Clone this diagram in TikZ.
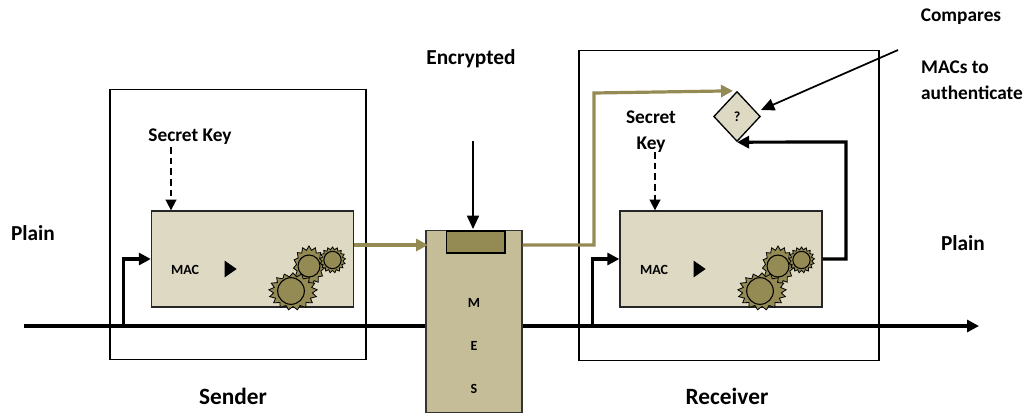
\documentclass[tikz,border=0pt]{standalone}
\usepackage{fontspec}
\setmainfont{Carlito}
\usepackage{xcolor}
\usetikzlibrary{arrows.meta}
\usetikzlibrary{shapes.geometric}
\definecolor{boxtan}{HTML}{DDD9C3}
\definecolor{mestan}{HTML}{C4BD97}
\definecolor{olive}{HTML}{948A54}
\tikzset{
 label/.style={font=\fontsize{14.5}{16}\bfseries\selectfont,inner sep=0pt},
 midlabel/.style={font=\fontsize{16}{18}\bfseries\selectfont,inner sep=0pt},
 biglabel/.style={font=\fontsize{17.5}{20}\bfseries\selectfont,inner sep=0pt},
 tiny/.style={font=\fontsize{10.5}{12}\bfseries\selectfont,inner sep=0pt},
 frame/.style={draw=black,line width=0.8pt,fill=none,inner sep=0pt},
 macbox/.style={draw=black!85,line width=1pt,fill=boxtan,minimum width=151.5pt,minimum height=72pt,inner sep=0pt},
 flow/.style={line width=2.4pt,-{Triangle[length=9pt,width=9pt]}},
 oliveflow/.style={draw=olive,line width=2.4pt,-{Triangle[length=9pt,width=9pt]}},
 thinflow/.style={line width=1.3pt,-{Triangle[length=10pt,width=9pt]}},
 keyflow/.style={line width=1.3pt,dash pattern=on 5pt off 3pt,-{Triangle[length=8pt,width=8pt]}},
 cog/.style={star,star point ratio=1.25,draw=black,line width=0.6pt,fill=olive,inner sep=0pt,transform shape},
 hub/.style={circle,draw=black,line width=0.8pt,fill=olive,inner sep=0pt}
}
\begin{document}
\begin{tikzpicture}[x=0.75pt,y=-0.75pt]
 \useasboundingbox (0,0) rectangle (1027,412);
 \coordinate (linein) at (24,326);
 \coordinate (lineout) at (979,326);
 \coordinate (taps) at (123.5,326);
 \coordinate (tapr) at (592.5,326);
 %%%%%%%%%%%%%%%%%%%%%%%%%%%%%%%%%%%
 \node[frame,minimum width=192pt,minimum height=203pt] (sender) at (238,224.5) {};
 \node[frame,minimum width=225pt,minimum height=232pt] (receiver) at (729,205.5) {};
 \draw[flow] (linein)--(lineout);
 \node[macbox] (macs) at (252.5,259) {};
 \node[macbox] (macr) at (721,259) {};
 %gears
 \foreach \name/\dx in {s/0,r/469}{
  \node[cog,star points=15,minimum size=30pt,xscale=0.78] (cogc\name) at (309+\dx,266) {};
  \node[hub,minimum size=16.5pt] (hubc\name) at (309+\dx,266) {};
  \node[cog,star points=17,minimum size=19.5pt] (cogd\name) at (332.5+\dx,260) {};
  \node[hub,minimum size=13pt] (hubd\name) at (332.5+\dx,260) {};
  \node[cog,star points=17,minimum size=28pt,xscale=1.3] (cogb\name) at (293+\dx,291.5) {};
  \node[hub,minimum size=20pt] (hubb\name) at (291+\dx,291) {};
  \node[tiny] (mactext\name) at (185+\dx,270) {MAC};
  \node[fill=black,isosceles triangle,isosceles triangle apex angle=70,inner sep=0pt,minimum height=9pt,minimum width=9pt] (play\name) at (229+\dx,269) {};
 }
 \node[draw=black!80,line width=0.8pt,fill=mestan,minimum width=72pt,minimum height=136pt,inner sep=0pt] (mes) at (474,321.5) {};
 \node[draw=black,line width=1pt,fill=olive,minimum width=44pt,minimum height=16.5pt,inner sep=0pt] (slot) at (475.5,242) {};
 \node[tiny] (m) at (474,303) {M};
 \node[tiny] (e) at (474,346) {E};
 \node[tiny] (s) at (474,389) {S};
 \node[diamond,draw=black,line width=1pt,fill=boxtan,minimum width=35pt,minimum height=37.5pt,inner sep=0pt] (qmark) at (737,116.5) {};
 \node[tiny] at (qmark) (qtext) {?};
 %%%%%%%%%%%%%%%%%%%%%%%%%%%%%%%%%%%
 \node[midlabel] (plainl) at (33,233) {Plain};
 \node[midlabel] (plainr) at (963,243) {Plain};
 \node[label] (keys) at (190,137) {Secret Key};
 \node[label] (secret) at (651,117.5) {Secret};
 \node[label] (keyr) at (651,145) {Key};
 \node[midlabel] (encr) at (471,59) {Encrypted};
 \node[label] (comp) at (961,17) {Compares};
 \node[label] (macsto) at (955,67) {MACs to};
 \node[label] (auth) at (972,93) {authenticate};
 \node[biglabel] (sendl) at (233,396) {Sender};
 \node[biglabel] (recvl) at (727,396) {Receiver};
 %%%%%%%%%%%%%%%%%%%%%%%%%%%%%%%%%%%
 \coordinate (enter) at (428,245);
 \coordinate (bendup) at (594,245);
 \coordinate (bendtop) at (594,93);
 \coordinate (turnr) at (846,142);
 \coordinate (slottop) at (473,141);
 \coordinate (slottip) at (473,229);
 \coordinate (notestart) at (898,50);
 \coordinate (notetip) at (761,110);
 \coordinate (keystart) at (171,147);
 \coordinate (keystartr) at (655,152);
 \draw[oliveflow] (macs.east |- enter)--(enter);
 \draw[oliveflow] (mes.east |- enter)--(bendup)--(bendtop)--([xshift=-3pt]qmark.north);
 \draw[flow] (taps)--(taps |- macs.west)--(macs.west);
 \draw[flow] (tapr)--(tapr |- macr.west)--(macr.west);
 \draw[flow] (macr.east)--(macr.east -| turnr)--(turnr)--(qmark.south);
 \draw[thinflow] (slottop)--(slottip);
 \draw[thinflow] (notestart)--(notetip);
 \draw[keyflow] (keystart)--(keystart |- macs.north);
 \draw[keyflow] (keystartr)--(keystartr |- macr.north);
\end{tikzpicture}
\end{document}
